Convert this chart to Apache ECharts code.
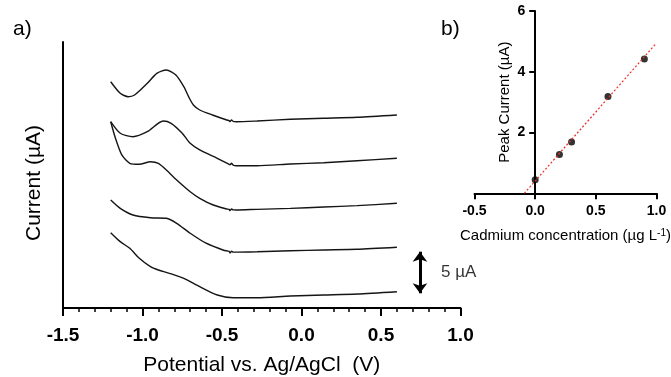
<!DOCTYPE html>
<html>
<head>
<meta charset="utf-8">
<script src="https://cdn.jsdelivr.net/npm/echarts@6/dist/echarts.min.js"></script>
<style>
  html, body { margin: 0; padding: 0; background: #fff; }
  #main { width: 671px; height: 377px; }
</style>
</head>
<body>
<div id="main"></div>
<script>
// stripping voltammograms, [potential V, current uA] (offset stack, top to bottom)
var trace1 = [[-1.20,27.22],[-1.14,25.83],[-1.09,25.42],[-1.05,25.62],[-0.97,27.03],[-0.91,28.23],[-0.85,28.63],[-0.79,28.03],[-0.74,26.62],[-0.71,25.42],[-0.68,24.42],[-0.64,23.82],[-0.56,23.22],[-0.47,22.62],[-0.455,22.55],[-0.45,22.42],[-0.44,22.62],[-0.43,22.45],[-0.41,22.41],[-0.28,22.50],[-0.07,22.70],[0.14,22.82],[0.35,22.94],[0.60,23.22]];
var trace2 = [[-1.20,22.41],[-1.14,21.02],[-1.06,20.61],[-0.97,21.21],[-0.87,22.50],[-0.82,22.22],[-0.75,21.02],[-0.70,19.81],[-0.64,19.01],[-0.53,18.01],[-0.46,17.35],[-0.45,17.22],[-0.44,17.42],[-0.43,17.20],[-0.41,17.12],[-0.28,17.12],[-0.07,17.32],[0.14,17.48],[0.35,17.72],[0.60,18.01]];
var trace3 = [[-1.20,22.41],[-1.17,20.42],[-1.13,18.41],[-1.08,17.41],[-1.02,17.29],[-0.95,17.60],[-0.90,17.41],[-0.85,16.60],[-0.785,15.40],[-0.70,13.99],[-0.64,13.20],[-0.555,12.39],[-0.47,11.91],[-0.455,11.85],[-0.45,11.72],[-0.44,11.92],[-0.43,11.80],[-0.41,11.79],[-0.28,11.87],[-0.07,11.99],[0.14,12.15],[0.35,12.31],[0.60,12.60]];
var trace4 = [[-1.20,12.99],[-1.14,11.99],[-1.06,11.19],[-0.95,10.86],[-0.85,10.79],[-0.785,10.19],[-0.70,8.99],[-0.60,7.79],[-0.49,6.95],[-0.455,6.80],[-0.45,6.62],[-0.44,6.82],[-0.43,6.72],[-0.28,6.77],[-0.07,6.89],[0.14,6.98],[0.35,7.06],[0.60,7.30]];
var trace5 = [[-1.20,9.06],[-1.14,7.98],[-1.08,7.18],[-1.02,5.98],[-0.95,4.97],[-0.90,4.57],[-0.83,4.17],[-0.74,3.57],[-0.64,2.56],[-0.53,1.56],[-0.43,1.24],[-0.28,1.24],[-0.07,1.44],[0.14,1.56],[0.35,1.68],[0.60,1.96]];

// 5 uA scale bar
var scaleBarX = 0.745;
var scaleBarY = [1.77, 6.77];

// calibration
var cdConc = [0, 0.2, 0.3, 0.6, 0.9];
var peakCurrent = [0.45, 1.28, 1.69, 3.19, 4.42];
var fitX = [-0.09, 0.99];
var fitY = [0, 4.9];

window.onload = function(){
    var dom = document.getElementById("main");
    var myChart = echarts.init(dom);
    var font = 'Liberation Sans';

    var traceStyle = { color: '#151515', width: 1.4 };
    var traces = [trace1, trace2, trace3, trace4, trace5].map(function(d){
        return {
            type: 'line', xAxisIndex: 0, yAxisIndex: 0,
            data: d, symbol: 'none', smooth: 0.25,
            lineStyle: traceStyle
        };
    });

    var option = {
        animation: false,
        textStyle: { fontFamily: font, color: '#000' },
        title: [
            { text: 'a)', left: 8, top: 14, textStyle: { fontFamily: font, fontSize: 21, fontWeight: 'normal', color: '#000' } },
            { text: 'b)', left: 436, top: 14, textStyle: { fontFamily: font, fontSize: 21, fontWeight: 'normal', color: '#000' } }
        ],
        grid: [
            { left: 63, top: 42, width: 397.5, height: 266, outerBoundsMode: 'none' },
            { left: 474.5, top: 11, width: 182, height: 182.3, outerBoundsMode: 'none' }
        ],
        xAxis: [
            {
                gridIndex: 0, type: 'value', min: -1.5, max: 1.0, interval: 0.5,
                name: 'Potential vs. Ag/AgCl  (V)', nameLocation: 'middle', nameGap: 47,
                nameMoveOverlap: false,
                nameTextStyle: { fontSize: 21, color: '#000' },
                axisLine: { lineStyle: { color: '#000', width: 2 } },
                axisTick: { length: 8, lineStyle: { color: '#000', width: 2 } },
                minorTick: { show: true, splitNumber: 5, length: 4, lineStyle: { color: '#000', width: 1.5 } },
                axisLabel: { fontSize: 19, fontWeight: 'bold', color: '#000', margin: 18,
                    formatter: function(v){ return v.toFixed(1); } },
                splitLine: { show: false }
            },
            {
                gridIndex: 1, type: 'value', min: -0.5, max: 1.0, interval: 0.5,
                name: 'Cadmium concentration (µg L{sup|-1})', nameLocation: 'middle', nameGap: 35,
                nameMoveOverlap: false,
                nameTextStyle: { fontSize: 15, color: '#000',
                    rich: { sup: { fontSize: 10, verticalAlign: 'top', color: '#000' } } },
                axisLine: { lineStyle: { color: '#000', width: 2 } },
                axisTick: { length: 6, lineStyle: { color: '#000', width: 2 } },
                axisLabel: { fontSize: 14, fontWeight: 'bold', color: '#000', margin: 11,
                    formatter: function(v){ return v.toFixed(1); } },
                splitLine: { show: false }
            }
        ],
        yAxis: [
            {
                gridIndex: 0, type: 'value', min: 0, max: 32,
                name: 'Current (µA)', nameLocation: 'middle', nameGap: 18,
                nameMoveOverlap: false,
                nameTextStyle: { fontSize: 21, color: '#000', padding: [0, 16, 0, 0] },
                axisLine: { show: true, onZero: false, lineStyle: { color: '#000', width: 2 } },
                axisTick: { show: false },
                axisLabel: { show: false },
                splitLine: { show: false }
            },
            {
                // sits on x = 0 of the calibration axis
                gridIndex: 1, type: 'value', min: 0, max: 6, interval: 2,
                offset: -60.7,
                name: 'Peak Current (µA)', nameLocation: 'middle', nameGap: 23,
                nameMoveOverlap: false,
                nameTextStyle: { fontSize: 15, color: '#000' },
                axisLine: { show: true, onZero: false, lineStyle: { color: '#000', width: 2 } },
                axisTick: { length: 6, lineStyle: { color: '#000', width: 2 } },
                axisLabel: { fontSize: 14, fontWeight: 'bold', color: '#000', margin: 10,
                    formatter: function(v){ return v === 0 ? '' : v; } },
                splitLine: { show: false }
            }
        ],
        series: traces.concat([
            {
                type: 'scatter', xAxisIndex: 0, yAxisIndex: 0,
                data: [[scaleBarX, (scaleBarY[0] + scaleBarY[1]) / 2]],
                symbolSize: 0, silent: true,
                label: { show: true, position: 'right', distance: 21, formatter: '5 µA',
                    fontSize: 17, color: '#000', fontFamily: font },
                markLine: {
                    silent: true, symbol: ['arrow', 'arrow'], symbolSize: [11, 10],
                    label: { show: false },
                    lineStyle: { color: '#000', width: 3, type: 'solid' },
                    data: [[ { coord: [scaleBarX, scaleBarY[0]] }, { coord: [scaleBarX, scaleBarY[1]] } ]]
                }
            },
            {
                type: 'line', xAxisIndex: 1, yAxisIndex: 1,
                data: fitX.map(function(x, i){ return [x, fitY[i]]; }),
                symbol: 'none',
                lineStyle: { color: '#e8302a', width: 1.2, type: [2, 2] }
            },
            {
                type: 'scatter', xAxisIndex: 1, yAxisIndex: 1,
                data: cdConc.map(function(x, i){ return [x, peakCurrent[i]]; }),
                symbolSize: 7, itemStyle: { color: '#000' }
            }
        ])
    };
    if (option && typeof option === "object") {
        myChart.setOption(option, true);
    }
}
</script>
</body>
</html>
